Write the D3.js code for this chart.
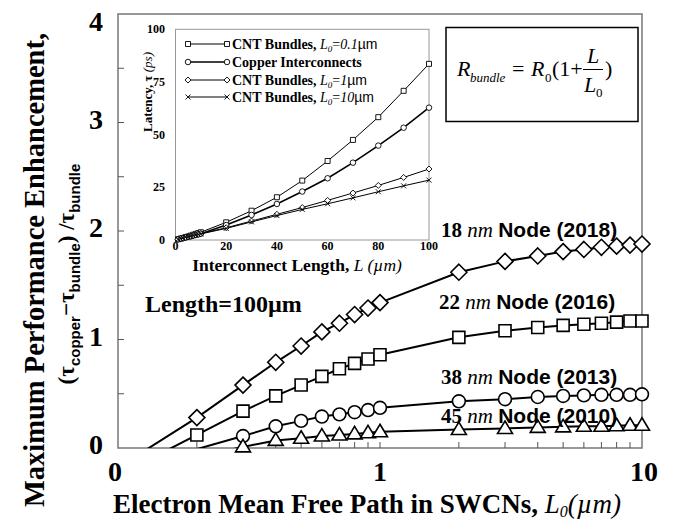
<!DOCTYPE html>
<html>
<head>
<meta charset="utf-8">
<script src="https://cdn.jsdelivr.net/npm/d3@7"></script>
<style>
  body { margin: 0; background: #fff; }
  svg { display: block; }
</style>
</head>
<body>
<div id="chart"></div>
<script>
// main chart: enhancement vs mean free path (log x)
const mfp = [0.1, 0.2, 0.3, 0.4, 0.5, 0.6, 0.7, 0.8, 0.9, 1, 2, 3, 4, 5, 6, 7, 8, 9, 10];
const node18 = [-0.18, 0.28, 0.58, 0.79, 0.94, 1.07, 1.15, 1.23, 1.29, 1.34, 1.62, 1.72, 1.77, 1.81, 1.83, 1.85, 1.86, 1.87, 1.88];
const node22 = [-0.25, 0.12, 0.34, 0.48, 0.58, 0.66, 0.73, 0.78, 0.82, 0.86, 1.02, 1.08, 1.11, 1.13, 1.14, 1.15, 1.16, 1.17, 1.17];
const node38 = [-0.25, -0.01, 0.11, 0.20, 0.25, 0.29, 0.31, 0.33, 0.35, 0.37, 0.43, 0.45, 0.47, 0.48, 0.485, 0.49, 0.49, 0.49, 0.495];
const node45 = [-0.3, -0.08, 0.01, 0.07, 0.09, 0.11, 0.12, 0.13, 0.14, 0.15, 0.17, 0.18, 0.19, 0.195, 0.2, 0.2, 0.205, 0.21, 0.21];
const nodeNames = ["18", "22", "38", "45"];
const nodeYears = ["2018", "2016", "2013", "2010"];
const yTicks = [0, 1, 2, 3, 4];
const xTicks = [0.1, 1, 10];
const xTickText = ["0", "1", "10"];

// inset: latency vs length
const len = [1, 2, 3, 4, 5, 6, 7, 8, 9, 10, 20, 30, 40, 50, 60, 70, 80, 90, 100];
const cnt01 = [0.4, 0.7, 1.0, 1.4, 1.7, 2.1, 2.5, 2.9, 3.3, 3.7, 8.4, 13.9, 20.3, 28.2, 37.5, 47.5, 58.3, 70.8, 83.6];
const copper = [0.3, 0.6, 0.9, 1.2, 1.5, 1.8, 2.1, 2.4, 2.7, 3.0, 7.1, 11.9, 17.1, 23.0, 29.3, 36.7, 44.8, 53.3, 62.8];
const cnt1 = [0.3, 0.6, 0.9, 1.2, 1.5, 1.8, 2.1, 2.4, 2.7, 3.0, 5.8, 9.0, 12.2, 15.4, 18.8, 22.3, 25.9, 29.7, 33.7];
const cnt10 = [0.3, 0.6, 0.9, 1.2, 1.5, 1.8, 2.1, 2.4, 2.6, 2.9, 5.5, 8.6, 11.6, 14.5, 17.2, 20.0, 22.9, 25.7, 28.4];
const insetXTicks = [0, 20, 40, 60, 80, 100];
const insetYTicks = [0, 25, 50, 75, 100];

const W = 676, H = 522;
const serif = "'Liberation Serif', 'Times New Roman', serif";
const sans = "'Liberation Sans', Arial, sans-serif";

const svg = d3.select("#chart").append("svg")
    .attr("width", W).attr("height", H);

const x = d3.scaleLog().domain([0.1, 10]).range([118, 642]);
const y = d3.scaleLinear().domain([0, 4]).range([448, 14]);

svg.append("clipPath").attr("id", "plotclip")
    .append("rect").attr("x", 118).attr("y", 14).attr("width", 524).attr("height", 434);

// frame
svg.append("rect")
    .attr("x", 118).attr("y", 14).attr("width", 524).attr("height", 434)
    .attr("fill", "none").attr("stroke", "#777").attr("stroke-width", 1.5);

// inward ticks
const yMinor = d3.range(0.5, 4, 0.5);
svg.append("g").selectAll("line").data(yMinor).join("line")
    .attr("x1", 118).attr("x2", 124)
    .attr("y1", d => y(d)).attr("y2", d => y(d))
    .attr("stroke", "#555").attr("stroke-width", 1);
const xMinor = [0.2, 0.3, 0.4, 0.5, 0.6, 0.7, 0.8, 0.9, 1, 2, 3, 4, 5, 6, 7, 8, 9];
svg.append("g").selectAll("line").data(xMinor).join("line")
    .attr("x1", d => x(d)).attr("x2", d => x(d))
    .attr("y1", 448).attr("y2", 442)
    .attr("stroke", "#555").attr("stroke-width", 1);

// tick labels
svg.append("g").selectAll("text").data(yTicks).join("text")
    .attr("x", 103).attr("y", d => Math.max(y(d) + 6, 31))
    .attr("text-anchor", "end")
    .style("font-family", serif).style("font-weight", "bold").style("font-size", "28px")
    .text(d => d);
svg.append("g").selectAll("text").data(xTicks).join("text")
    .attr("x", (d, i) => x(d) - (i === 0 ? 3 : 0) + (i === 2 ? 2 : 0)).attr("y", 481)
    .attr("text-anchor", "middle")
    .style("font-family", serif).style("font-weight", "bold").style("font-size", "28px")
    .text((d, i) => xTickText[i]);

// series
const series = [node18, node22, node38, node45].map((vals, i) => ({
    name: nodeNames[i], year: nodeYears[i],
    pts: mfp.map((m, j) => ({m: m, v: vals[j]}))
}));

const line = d3.line().x(d => x(d.m)).y(d => y(d.v));
svg.append("g").attr("clip-path", "url(#plotclip)")
    .selectAll("path").data(series).join("path")
    .attr("d", d => line(d.pts))
    .attr("fill", "none").attr("stroke", "#000").attr("stroke-width", 2);

const shapes = [
    "M0,-8L8,0L0,8L-8,0Z",
    "M-6,-6L6,-6L6,6L-6,6Z",
    d3.symbol(d3.symbolCircle, 130)(),
    "M0,-7.5L7.5,5L-7.5,5Z"
];
series.forEach((s, i) => {
    svg.append("g").selectAll("path")
        .data(s.pts.filter(p => p.v >= 0))
        .join("path")
        .attr("transform", d => `translate(${x(d.m)},${y(d.v)})`)
        .attr("d", shapes[i])
        .attr("fill", "#fff").attr("stroke", "#000").attr("stroke-width", 1.6);
});

// node labels
const labelPos = [[441, 237], [439, 309], [441, 384], [441, 423]];
series.forEach((s, i) => {
    const t = svg.append("text")
        .attr("x", labelPos[i][0]).attr("y", labelPos[i][1])
        .style("font-size", "21px");
    t.append("tspan").style("font-family", serif).style("font-weight", "bold").text(s.name + " ");
    t.append("tspan").style("font-family", serif).style("font-style", "italic").text("nm ");
    t.append("tspan").style("font-family", sans).style("font-weight", "bold").text(`Node (${s.year})`);
});

svg.append("text")
    .attr("x", 145).attr("y", 312)
    .style("font-family", serif).style("font-weight", "bold").style("font-size", "24px")
    .text("Length=100µm");

// axis titles
const xt = svg.append("text")
    .attr("x", 367).attr("y", 513).attr("text-anchor", "middle")
    .style("font-family", serif).style("font-weight", "bold").style("font-size", "27px");
xt.append("tspan").text("Electron Mean Free Path in SWCNs, ");
xt.append("tspan").style("font-style", "italic").style("font-weight", "normal").text("L");
xt.append("tspan").style("font-style", "italic").style("font-weight", "normal")
    .style("font-size", "16px").attr("dy", 4).text("0");
xt.append("tspan").style("font-style", "italic").style("font-weight", "normal").attr("dy", -4).text("(µm)");

svg.append("text")
    .attr("transform", "translate(44,270) rotate(-90)")
    .attr("text-anchor", "middle")
    .style("font-family", serif).style("font-weight", "bold").style("font-size", "28.5px")
    .text("Maximum Performance Enhancement,");

const yt2 = svg.append("text")
    .attr("transform", "translate(74,274) rotate(-90)")
    .attr("text-anchor", "middle")
    .style("font-family", serif).style("font-weight", "bold").style("font-size", "23px");
yt2.append("tspan").text("(τ");
yt2.append("tspan").style("font-family", sans).style("font-size", "15px").attr("dy", 6).text("copper");
yt2.append("tspan").attr("dy", -6).text("−τ");
yt2.append("tspan").style("font-family", sans).style("font-size", "15px").attr("dy", 6).text("bundle");
yt2.append("tspan").attr("dy", -6).text(") /τ");
yt2.append("tspan").style("font-family", sans).style("font-size", "15px").attr("dy", 6).text("bundle");

// formula box
svg.append("rect")
    .attr("x", 446).attr("y", 27.5).attr("width", 192).attr("height", 94)
    .attr("fill", "#fff").attr("stroke", "#000").attr("stroke-width", 1.5);
const fs = "22px";
svg.append("text").attr("x", 457).attr("y", 76)
    .style("font-family", serif).style("font-style", "italic").style("font-size", fs).text("R");
svg.append("text").attr("x", 470).attr("y", 82)
    .style("font-family", serif).style("font-style", "italic").style("font-size", "13px").text("bundle");
svg.append("text").attr("x", 512).attr("y", 76)
    .style("font-family", serif).style("font-size", fs).text("=");
svg.append("text").attr("x", 531).attr("y", 76)
    .style("font-family", serif).style("font-style", "italic").style("font-size", fs).text("R");
svg.append("text").attr("x", 545).attr("y", 82)
    .style("font-family", serif).style("font-size", "13px").text("0");
svg.append("text").attr("x", 552).attr("y", 76)
    .style("font-family", serif).style("font-size", fs).text("(1+");
svg.append("line").attr("x1", 583).attr("x2", 603).attr("y1", 69.5).attr("y2", 69.5)
    .attr("stroke", "#000").attr("stroke-width", 1);
svg.append("text").attr("x", 593).attr("y", 63).attr("text-anchor", "middle")
    .style("font-family", serif).style("font-style", "italic").style("font-size", fs).text("L");
svg.append("text").attr("x", 584).attr("y", 92)
    .style("font-family", serif).style("font-style", "italic").style("font-size", fs).text("L");
svg.append("text").attr("x", 596).attr("y", 97)
    .style("font-family", serif).style("font-size", "13px").text("0");
svg.append("text").attr("x", 605).attr("y", 76)
    .style("font-family", serif).style("font-size", fs).text(")");

// ---- inset ----
const ix = d3.scaleLinear().domain([0, 100]).range([175.5, 429]);
const iy = d3.scaleLinear().domain([0, 100]).range([240, 29.3]);

svg.append("rect")
    .attr("x", 175.5).attr("y", 29.3).attr("width", 253.5).attr("height", 210.7)
    .attr("fill", "#fff").attr("stroke", "#999").attr("stroke-width", 1);

svg.append("g").selectAll("text").data(insetYTicks).join("text")
    .attr("x", 165).attr("y", d => iy(d) + 4).attr("text-anchor", "end")
    .style("font-family", serif).style("font-weight", "bold").style("font-size", "12px")
    .text(d => d);
svg.append("g").selectAll("text").data(insetXTicks).join("text")
    .attr("x", d => ix(d)).attr("y", 250).attr("text-anchor", "middle")
    .style("font-family", serif).style("font-weight", "bold").style("font-size", "12px")
    .text(d => d);

const ixt = svg.append("text")
    .attr("x", 297).attr("y", 270.5).attr("text-anchor", "middle")
    .style("font-family", serif).style("font-weight", "bold").style("font-size", "17.5px");
ixt.append("tspan").text("Interconnect Length, ");
ixt.append("tspan").style("font-style", "italic").style("font-weight", "normal").text("L (µm)");

const iyt = svg.append("text")
    .attr("transform", "translate(152,92) rotate(-90)")
    .attr("text-anchor", "middle")
    .style("font-family", serif).style("font-weight", "bold").style("font-size", "13px");
iyt.append("tspan").text("Latency, τ ");
iyt.append("tspan").style("font-style", "italic").style("font-weight", "normal").text("(ps)");

const insetSeries = [
    {vals: cnt01, shape: "M-2.5,-2.5L2.5,-2.5L2.5,2.5L-2.5,2.5Z", w: 1, label: ["CNT Bundles, ", "0.1"]},
    {vals: copper, shape: d3.symbol(d3.symbolCircle, 24)(), w: 1.6, label: ["Copper Interconnects", null]},
    {vals: cnt1, shape: "M0,-3L3,0L0,3L-3,0Z", w: 1, label: ["CNT Bundles, ", "1"]},
    {vals: cnt10, shape: "M-2.5,-2.5L2.5,2.5M-2.5,2.5L2.5,-2.5", w: 1, label: ["CNT Bundles, ", "10"]}
];
const iline = d3.line().x(d => ix(d[0])).y(d => iy(d[1]));
insetSeries.forEach(s => {
    const pts = len.map((l, j) => [l, s.vals[j]]);
    svg.append("path").attr("d", iline(pts))
        .attr("fill", "none").attr("stroke", "#000").attr("stroke-width", s.w);
    svg.append("g").selectAll("path").data(pts).join("path")
        .attr("transform", d => `translate(${ix(d[0])},${iy(d[1])})`)
        .attr("d", s.shape)
        .attr("fill", "#fff").attr("stroke", "#000").attr("stroke-width", 0.9);
});

// inset legend
const legRows = [44, 62, 80, 97];
insetSeries.forEach((s, i) => {
    const g = svg.append("g").attr("transform", `translate(0,${legRows[i]})`);
    g.append("line").attr("x1", 188).attr("x2", 227).attr("y1", 0).attr("y2", 0)
        .attr("stroke", "#000").attr("stroke-width", s.w);
    [188, 227].forEach(px => g.append("path")
        .attr("transform", `translate(${px},0)`).attr("d", s.shape)
        .attr("fill", "#fff").attr("stroke", "#000").attr("stroke-width", 0.9));
    const t = g.append("text").attr("x", 232).attr("y", 5)
        .style("font-family", serif).style("font-weight", "bold").style("font-size", "14px");
    t.append("tspan").text(s.label[0]);
    if (s.label[1] !== null) {
        t.append("tspan").style("font-style", "italic").style("font-weight", "normal").text("L");
        t.append("tspan").style("font-style", "italic").style("font-weight", "normal")
            .style("font-size", "9px").attr("dy", 3).text("0");
        t.append("tspan").attr("dy", -3).style("font-weight", "normal").text("=");
        t.append("tspan").style("font-style", "italic").style("font-weight", "normal").text(s.label[1]);
        t.append("tspan").style("font-family", sans).style("font-weight", "normal").text("µm");
    }
});
</script>
</body>
</html>
